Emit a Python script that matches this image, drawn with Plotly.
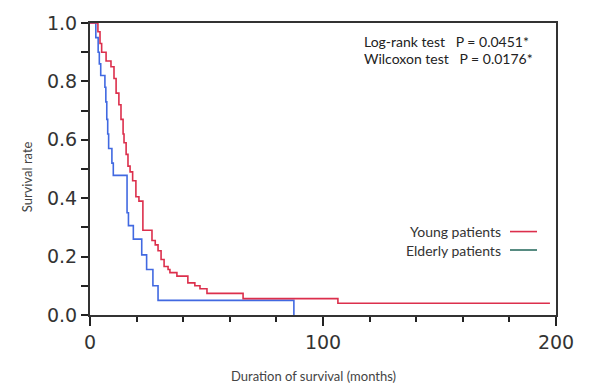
import plotly.graph_objects as go

# Kaplan-Meier step data (months, survival rate)
young_time = [0, 3.4, 4.3, 5.0, 6.9, 9.0, 10.3, 11.2, 12.4, 13.3, 14.2, 14.6, 15.5, 16.3, 17.2, 18.3,
              19.7, 21.0, 22.7, 26.6, 28.0, 29.2, 30.5, 31.8, 33.5, 34.3, 37.3, 42.0, 45.0, 47.2,
              50.2, 65.7, 106.4, 197.4]
young_surv = [1.0, 0.97, 0.93, 0.90, 0.87, 0.85, 0.81, 0.76, 0.72, 0.67, 0.62, 0.59, 0.55, 0.51, 0.49, 0.46,
              0.405, 0.39, 0.29, 0.255, 0.24, 0.22, 0.19, 0.166, 0.156, 0.145, 0.133, 0.11, 0.10, 0.09,
              0.074, 0.056, 0.04, 0.04]

elderly_time = [0, 2.5, 3.5, 4.0, 4.6, 6.4, 6.8, 7.2, 7.6, 8.0, 9.4, 10.0, 15.9, 16.5, 18.6, 22.2,
                24.3, 27.0, 29.2, 87.5]
elderly_surv = [1.0, 0.95, 0.90, 0.86, 0.82, 0.78, 0.73, 0.67, 0.62, 0.57, 0.52, 0.478, 0.35, 0.306, 0.26, 0.206,
                0.156, 0.10, 0.05, 0.0]

x_ticks = [0, 100, 200]
y_ticks = [0.0, 0.2, 0.4, 0.6, 0.8, 1.0]
y_tick_labels = ["0.0", "0.2", "0.4", "0.6", "0.8", "1.0"]

legend_names = ["Young patients", "Elderly patients"]
stats_lines = ["Log-rank test   P = 0.0451*", "Wilcoxon test   P = 0.0176*"]

RED = "#dc2f4c"
BLUE = "#4169e1"
LEG_GREEN = "#2e6f62"
TEXT_FONT = "Lato, 'Open Sans', sans-serif"
TICK_FONT = "DejaVu Sans, Verdana, sans-serif"

fig = go.Figure()
fig.add_trace(go.Scatter(x=elderly_time, y=elderly_surv, mode="lines", line_shape="hv",
                         line=dict(color=BLUE, width=1.6), showlegend=False))
fig.add_trace(go.Scatter(x=young_time, y=young_surv, mode="lines", line_shape="hv",
                         line=dict(color=RED, width=1.6), showlegend=False))

fig.update_layout(
    width=590, height=387,
    margin=dict(l=90, r=34, t=14, b=72),
    paper_bgcolor="white", plot_bgcolor="white",
    showlegend=False,
)
fig.update_xaxes(
    range=[0, 200], tickvals=x_ticks, ticktext=[str(v) for v in x_ticks],
    ticks="outside", ticklen=9, tickwidth=1.5, tickcolor="#222",
    minor=dict(dtick=20, ticks="outside", ticklen=5, tickwidth=1.5, tickcolor="#222"),
    showline=True, linecolor="#333", linewidth=2, mirror=True,
    showgrid=False, zeroline=False,
    tickfont=dict(family=TICK_FONT, size=19, color="#333"),
)
fig.update_yaxes(
    range=[0, 1], tickvals=y_ticks, ticktext=y_tick_labels,
    ticks="outside", ticklen=7, tickwidth=1.5, tickcolor="#222",
    minor=dict(dtick=0.1, ticks="outside", ticklen=7, tickwidth=1.5, tickcolor="#222"),
    showline=True, linecolor="#333", linewidth=2, mirror=True,
    showgrid=False, zeroline=False,
    tickfont=dict(family=TICK_FONT, size=19, color="#333"),
)

# Stats text
for i, s in enumerate(stats_lines):
    fig.add_annotation(xref="paper", yref="paper", x=0.583, y=1 - (19 + 18 * i) / 301,
                       xanchor="left", yanchor="middle", text=s, showarrow=False,
                       font=dict(family=TEXT_FONT, size=14, color="#222"))

# Custom legend (text then line sample)
leg_colors = [RED, LEG_GREEN]
for i, (name, col) in enumerate(zip(legend_names, leg_colors)):
    ypx = 229 + 19 * i
    yp = (315 - ypx) / 301
    fig.add_annotation(xref="paper", yref="paper", x=(503 - 90) / 466, y=yp,
                       xanchor="right", yanchor="middle", text=name, showarrow=False,
                       font=dict(family=TEXT_FONT, size=14, color="#333"))
    fig.add_shape(type="line", xref="paper", yref="paper",
                  x0=(510 - 90) / 466, x1=(537 - 90) / 466, y0=yp, y1=yp,
                  line=dict(color=col, width=1.6))

# Axis titles
fig.add_annotation(xref="paper", yref="paper", x=(313 - 90) / 466, y=-(378 - 315) / 301,
                   xanchor="center", yanchor="middle", text="Duration of survival (months)",
                   showarrow=False, font=dict(family=TEXT_FONT, size=13, color="#444"))
fig.add_annotation(xref="paper", yref="paper", x=-(90 - 27) / 466, y=(315 - 172) / 301,
                   xanchor="center", yanchor="middle", text="Survival rate", textangle=-90,
                   showarrow=False, font=dict(family=TEXT_FONT, size=13, color="#444"))

fig.write_html("out.html")
